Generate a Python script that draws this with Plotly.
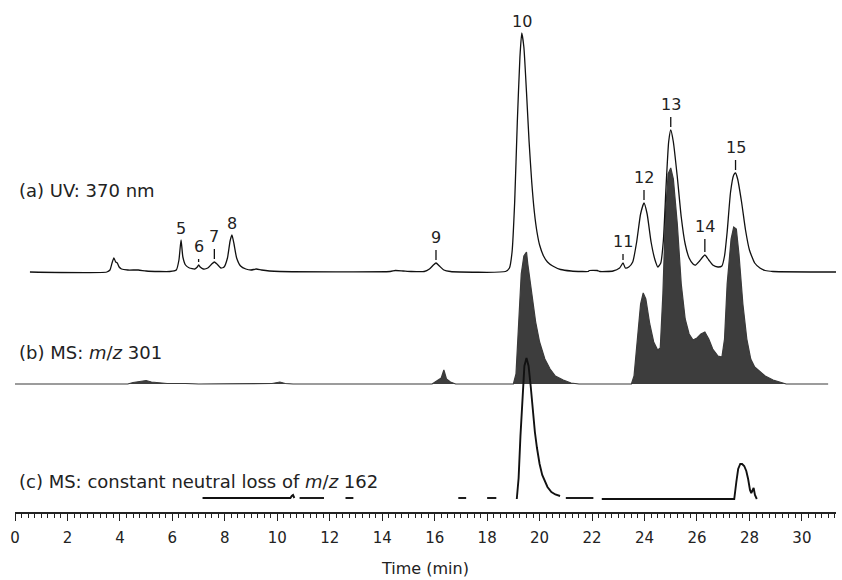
import numpy as np
import plotly.graph_objects as go

# ---------------- data ----------------
# (a) UV 370 nm : time (min), response (relative units)
uv_time = [0.57, 3.5, 3.62, 3.7, 3.77, 3.84, 3.9, 3.97, 4.06, 4.3, 4.7, 5.0, 5.5, 5.9,
           6.15, 6.25, 6.33, 6.4, 6.5, 6.65, 6.85, 6.95, 7.0, 7.06, 7.18, 7.35, 7.5, 7.6,
           7.7, 7.85, 7.97, 8.1, 8.2, 8.27, 8.35, 8.45, 8.6, 8.8, 9.0, 9.2, 9.4, 9.7, 10.1,
           14.3, 14.5, 14.8, 15.1, 15.6, 15.8, 15.95, 16.05, 16.18, 16.35, 16.6, 18.7,
           18.85, 18.95, 19.05, 19.15, 19.25, 19.32, 19.4, 19.5, 19.6, 19.7, 19.8, 19.9,
           20.0, 20.15, 20.3, 20.5, 20.8, 21.2, 21.6, 21.85, 21.9, 22.2, 22.3, 22.8, 23.05,
           23.18, 23.27, 23.4, 23.55, 23.7, 23.85, 23.98, 24.1, 24.25, 24.4, 24.51, 24.62,
           24.72, 24.82, 24.92, 25.0, 25.1, 25.25, 25.4, 25.55, 25.7, 25.85, 25.95, 26.1,
           26.3, 26.45, 26.6, 26.8, 26.95, 27.05, 27.15, 27.28, 27.4, 27.47, 27.55, 27.7,
           27.85, 28.0, 28.2, 28.4, 28.6, 28.9, 31.3]
uv_signal = [0, 0, 2, 9, 14, 10, 9, 5, 3, 2, 2, 1, 0.5, 0.5,
             2, 12, 32, 15, 7, 4, 3, 5, 7, 5, 3, 4, 8, 10,
             8, 4, 5, 14, 31, 37, 28, 14, 6, 3, 2, 3, 2, 1, 0.5,
             0.5, 1.5, 1, 0.5, 0.5, 3, 7, 9, 6, 2, 0.5, 0.5,
             4, 20, 70, 150, 215, 239, 225, 180, 130, 90, 60, 40,
             27, 16, 10, 6, 2.5, 1, 0.5, 0.5, 1.5, 1.5, 0.5, 1, 4,
             9, 4, 5, 10, 30, 58, 69, 58, 30, 12, 5, 9,
             32, 85, 130, 142, 130, 95, 55, 28, 14, 8, 7, 11,
             17, 12, 7, 5, 6, 16, 40, 80, 97, 99, 93, 70,
             42, 22, 9, 4, 1.5, 0.5, 0]

# (b) MS m/z 301 : time (min), ion intensity (relative units)
ms301_time = [0.0, 4.3, 4.5, 4.8, 5.0, 5.2, 5.5, 5.8, 6.5, 7.0, 9.8, 10.1, 10.3, 10.6,
              15.9, 16.1, 16.25, 16.35, 16.45, 16.6, 16.8, 19.0, 19.1, 19.2, 19.3, 19.4,
              19.5, 19.55, 19.65, 19.75, 19.85, 20.0, 20.2, 20.4, 20.6, 20.9, 21.2, 21.5,
              23.5, 23.6, 23.7, 23.85, 23.95, 24.05, 24.2, 24.35, 24.5, 24.6, 24.7, 24.8,
              24.9, 25.0, 25.1, 25.25, 25.4, 25.55, 25.7, 25.85, 26.0, 26.15, 26.3, 26.45,
              26.6, 26.8, 26.95, 27.05, 27.15, 27.3, 27.4, 27.5, 27.6, 27.75, 27.9, 28.05,
              28.2, 28.4, 28.6, 28.9, 29.2, 29.4, 31.0]
ms301_signal = [0, 0, 1.5, 3, 3.5, 2, 1, 0.5, 0.5, 0, 0.5, 2, 0.5, 0,
                0, 3, 6, 14, 5, 2, 0, 0, 10, 60, 110, 128,
                132, 120, 100, 80, 62, 42, 25, 15, 8, 4, 1, 0,
                0, 8, 40, 80, 91, 85, 60, 42, 34, 36, 90, 170,
                210, 216, 205, 160, 100, 65, 50, 44, 46, 50, 52, 45,
                35, 28, 27, 45, 100, 145, 157, 155, 130, 80, 45, 25,
                17, 12, 8, 4, 2, 0, 0]

# (c) MS constant neutral loss of m/z 162 (None = no data recorded)
nl162_time = [7.15, 10.5, 10.55, 10.6, 10.65, 10.7,
              10.85, 11.78, 11.8,
              12.6, 12.9, 12.95,
              16.9, 17.2, 17.25,
              18.0, 18.35, 18.4,
              19.13, 19.2, 19.27, 19.35, 19.42, 19.5, 19.58, 19.66, 19.74, 19.82, 19.9,
              20.0, 20.1, 20.2, 20.3, 20.45, 20.6, 20.78, 20.85,
              21.0, 22.05, 22.1,
              22.37, 27.42, 27.5, 27.57, 27.65, 27.72, 27.8, 27.88, 27.95, 28.02, 28.07,
              28.12, 28.16, 28.21, 28.28]
nl162_signal = [0, 0, 2, 3, 0, None,
                0, 0, None,
                0, 0, None,
                0, 0, None,
                0, 0, None,
                -1, 20, 62, 108, 132, 140, 132, 112, 88, 66, 50,
                34, 23, 16, 11, 6, 3.5, 2, None,
                0, 0, None,
                -1, -1, 16, 29, 34, 34, 32, 27, 19, 8, 5,
                8, 10, 3, -1]

# peak numbering on the UV trace
peak_ids = ["5", "6", "7", "8", "9", "10", "11", "12", "13", "14", "15"]
peak_times = [6.33, 7.0, 7.6, 8.27, 16.05, 19.32, 23.18, 23.98, 25.0, 26.3, 27.47]
peak_marked = [False, True, True, False, True, False, True, True, True, True, True]

trace_labels = ["(a) UV: 370 nm", "(b) MS: <i>m</i>/<i>z</i> 301",
                "(c) MS: constant neutral loss of <i>m</i>/<i>z</i> 162"]
x_title = "Time (min)"

# ---------------- layout constants ----------------
OFF_A, OFF_B, OFF_C = 240, 128, 14
FONT = "DejaVu Sans, Arial, sans-serif"
INK = "#222222"


def shifted(vals, off):
    return [None if v is None else v + off for v in vals]


fig = go.Figure()

fig.add_trace(go.Scatter(
    x=ms301_time, y=shifted(ms301_signal, OFF_B), mode="lines",
    line=dict(color="#3a3a3a", width=1.2), fill="toself", fillcolor="#3d3d3d",
    hoverinfo="skip", showlegend=False))

fig.add_trace(go.Scatter(
    x=uv_time, y=shifted(uv_signal, OFF_A), mode="lines",
    line=dict(color="#111111", width=1.3, shape="spline", smoothing=0.5),
    hoverinfo="skip", showlegend=False))

fig.add_trace(go.Scatter(
    x=nl162_time, y=shifted(nl162_signal, OFF_C), mode="lines", connectgaps=False,
    line=dict(color="#111111", width=1.9),
    hoverinfo="skip", showlegend=False))

# peak labels and small marker ticks
uv_t = np.array(uv_time)
uv_s = np.array(uv_signal)
gap_adjust = {"6": -7, "11": -4, "14": 3}
for pid, pt, marked in zip(peak_ids, peak_times, peak_marked):
    top = float(np.interp(pt, uv_t, uv_s)) + OFF_A
    if marked:
        g = 26 + gap_adjust.get(pid, 0)
        fig.add_shape(type="line", x0=pt, x1=pt, y0=top + 3, y1=top + g - 13,
                      xref="x", yref="y", line=dict(color="#111111", width=1.3))
    else:
        g = 12
    fig.add_annotation(x=pt, y=top + g, xref="x", yref="y", text=pid, showarrow=False,
                       font=dict(family=FONT, size=16, color=INK),
                       xanchor="center", yanchor="middle")

for lab, ypos in zip(trace_labels, [322, 160, 31]):
    fig.add_annotation(x=0.0025, y=ypos, xref="paper", yref="y", text=lab,
                       showarrow=False, xanchor="left", yanchor="middle",
                       font=dict(family=FONT, size=18, color=INK))

fig.update_layout(
    width=842, height=580,
    margin=dict(l=15, r=6, t=12, b=68, autoexpand=False),
    paper_bgcolor="white", plot_bgcolor="white",
    showlegend=False,
    xaxis=dict(range=[0, 31.3], showgrid=False, zeroline=False, automargin=False,
               showline=True, linecolor=INK, linewidth=1.5,
               ticks="outside", ticklen=7, tickwidth=1.3, tickcolor=INK,
               tick0=0, dtick=2, ticklabelstandoff=4,
               tickfont=dict(family=FONT, size=15, color=INK),
               minor=dict(dtick=0.25, ticklen=4, tickwidth=1, tickcolor=INK,
                          ticks="outside"),
               title=dict(text=x_title, standoff=17,
                          font=dict(family=FONT, size=16, color=INK))),
    yaxis=dict(range=[0, 500], visible=False, fixedrange=True, automargin=False),
)

fig.write_html("out.html", config={"displayModeBar": False},
               post_script="document.body.style.margin='0';document.body.style.padding='0';")
